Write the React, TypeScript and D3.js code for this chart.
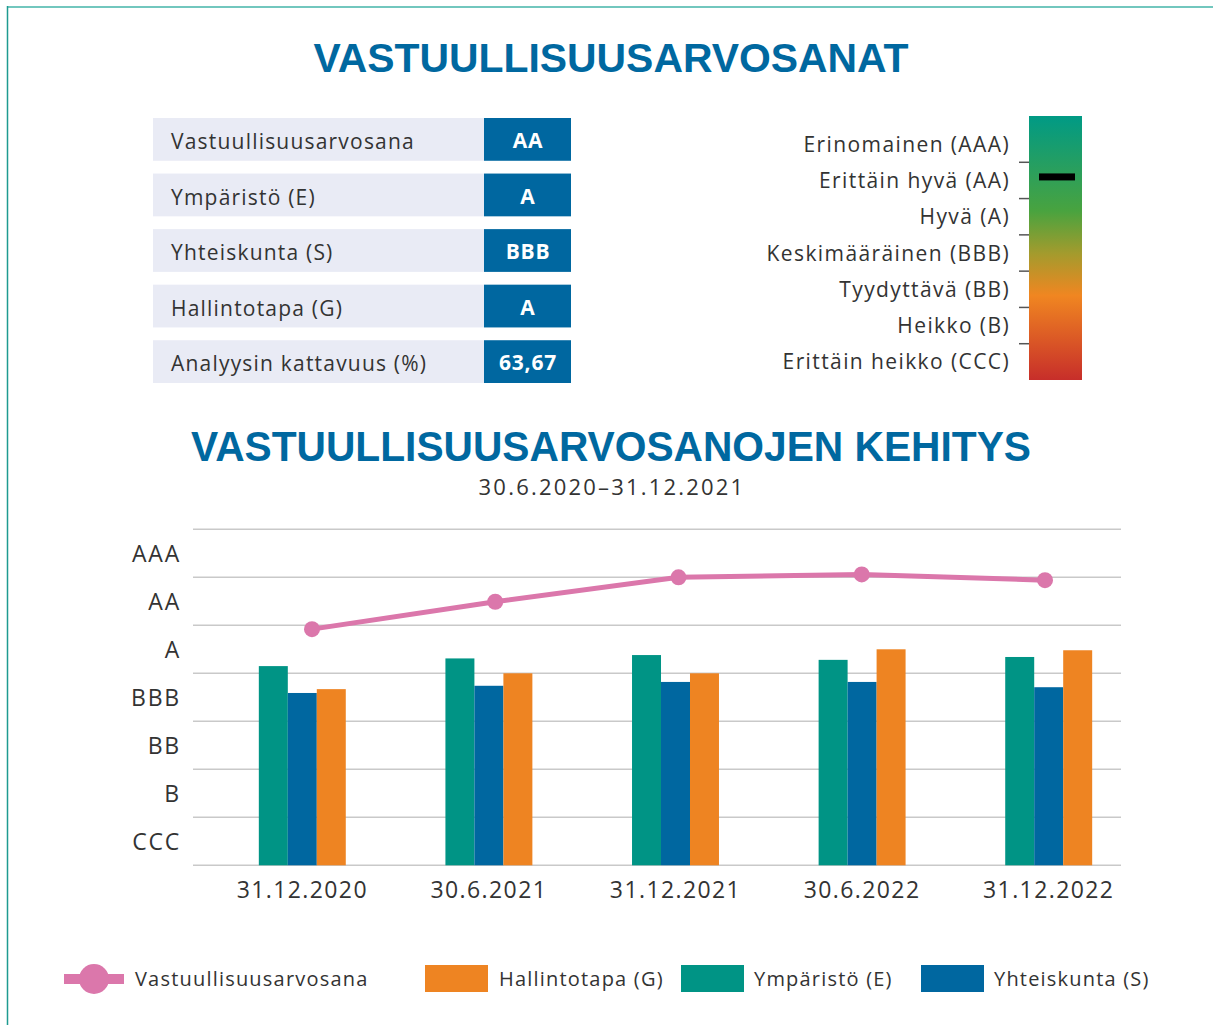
import React from "react";
import * as d3 from "d3";

// ---------- data ----------
const tableLabels = ["Vastuullisuusarvosana", "Ympäristö (E)", "Yhteiskunta (S)", "Hallintotapa (G)", "Analyysin kattavuus (%)"];
const tableValues = ["AA", "A", "BBB", "A", "63,67"];

const scaleLabels = ["Erinomainen (AAA)", "Erittäin hyvä (AA)", "Hyvä (A)", "Keskimääräinen (BBB)", "Tyydyttävä (BB)", "Heikko (B)", "Erittäin heikko (CCC)"];
const currentRatingIndex = 1; // AA

const gradeLabels = ["CCC", "B", "BB", "BBB", "A", "AA", "AAA"];
const categories = ["31.12.2020", "30.6.2021", "31.12.2021", "30.6.2022", "31.12.2022"];
const envValues = [4.15, 4.31, 4.38, 4.28, 4.34];
const socValues = [3.59, 3.74, 3.82, 3.82, 3.71];
const govValues = [3.67, 4.0, 4.0, 4.5, 4.48];
const overallValues = [4.92, 5.49, 6.0, 6.06, 5.94];

const seriesKeys = ["E", "S", "G"];
const seriesValues: Record<string, number[]> = { E: envValues, S: socValues, G: govValues };

// ---------- styles ----------
const C = {
  teal: "#009485",
  blue: "#0067a0",
  orange: "#ee8422",
  pink: "#db77ab",
  title: "#0068a0",
  text: "#333333",
  grid: "#c9c9c9",
  rowBg: "#e9ebf5",
};
const seriesColor: Record<string, string> = { E: C.teal, S: C.blue, G: C.orange };
const FONT = "'Open Sans', sans-serif";
const TITLE_FONT = "'Liberation Sans', Arial, sans-serif";

export default function App() {
  const W = 1213, H = 1025;

  // chart scales
  const y = d3.scaleLinear().domain([0, 7]).range([865.3, 529.3]);
  const x0 = d3.scaleBand<string>().domain(categories).range([209, 1142]).paddingInner(0.534).paddingOuter(0.267);
  const x1 = d3.scaleBand<string>().domain(seriesKeys).range([0, x0.bandwidth()]);
  const xLine = d3.scalePoint<string>().domain(categories).range([312, 1045]);
  const gridX0 = 193, gridX1 = 1121;

  const lineGen = d3.line<number>().x((_, i) => xLine(categories[i])!).y((d) => y(d));

  // table layout
  const rowY = d3.scaleBand<string>().domain(tableLabels).range([118, 383]).paddingInner(0.23);

  // rating legend
  const rY = d3.scaleBand<string>().domain(scaleLabels).range([126, 380]);

  const txt = { fontFamily: FONT, fill: C.text } as const;

  return (
    <div style={{ position: "absolute", left: 0, top: 0 }}>
      <svg width={W} height={H} style={{ display: "block", background: "#fff" }}>
        <defs>
          <linearGradient id="ratingGrad" x1="0" y1="0" x2="0" y2="1">
            <stop offset="0" stopColor="#009a85" />
            <stop offset="0.36" stopColor="#49a33f" />
            <stop offset="0.52" stopColor="#a39b2d" />
            <stop offset="0.68" stopColor="#f08621" />
            <stop offset="1" stopColor="#c72e2a" />
          </linearGradient>
        </defs>
        {/* frame */}
        <line x1={7} x2={W} y1={7} y2={7} stroke="#72c7be" strokeWidth={2} />
        <line x1={7.5} x2={7.5} y1={6} y2={H} stroke="#1e9b91" strokeWidth={1.5} />

        {/* title 1 */}
        <text x={611} y={72} textAnchor="middle" fontFamily={TITLE_FONT} fontWeight={700} fontSize={41}
          fill={C.title} textLength={595} lengthAdjust="spacingAndGlyphs">VASTUULLISUUSARVOSANAT</text>

        {/* table */}
        {tableLabels.map((lab, i) => {
          const yy = rowY(lab)!;
          const h = rowY.bandwidth();
          return (
            <g key={lab}>
              <rect x={153} y={yy} width={331} height={h} fill={C.rowBg} />
              <rect x={484} y={yy} width={87} height={h} fill={C.blue} />
              <text x={171} y={yy + h / 2 + 2} dy="0.36em" fontSize={21} letterSpacing={1.2} {...txt}>{lab}</text>
              <text x={528} y={yy + h / 2 + 1} dy="0.36em" textAnchor="middle" fontFamily={FONT} fontWeight={700} fontSize={21} letterSpacing={0.8} fill="#fff">{tableValues[i]}</text>
            </g>
          );
        })}

        {/* rating scale legend */}
        <rect x={1029} y={116} width={53} height={264} fill="url(#ratingGrad)" />
        {scaleLabels.map((lab) => (
          <text key={lab} x={1010} y={rY(lab)! + rY.bandwidth() / 2} dy="0.36em" textAnchor="end" fontSize={21} letterSpacing={1.4} {...txt}>{lab}</text>
        ))}
        {scaleLabels.slice(1).map((lab) => (
          <line key={lab} x1={1019} x2={1029} y1={rY(lab)!} y2={rY(lab)!} stroke="#555" strokeWidth={1.5} />
        ))}
        <rect x={1039} y={rY(scaleLabels[currentRatingIndex])! + rY.bandwidth() / 2 - 7} width={36} height={7} fill="#000" />

        {/* title 2 */}
        <text x={611} y={461} textAnchor="middle" fontFamily={TITLE_FONT} fontWeight={700} fontSize={42}
          fill={C.title} textLength={840} lengthAdjust="spacingAndGlyphs">VASTUULLISUUSARVOSANOJEN KEHITYS</text>
        <text x={612} y={487} dy="0.36em" textAnchor="middle" fontSize={22} letterSpacing={2.2} {...txt}>30.6.2020–31.12.2021</text>

        {/* grid */}
        {d3.range(0, 8).map((v) => (
          <line key={v} x1={gridX0} x2={gridX1} y1={y(v)} y2={y(v)} stroke={C.grid} strokeWidth={1.5} />
        ))}
        {gradeLabels.map((g, i) => (
          <text key={g} x={181} y={y(i + 0.5)} dy="0.36em" textAnchor="end" fontSize={23} letterSpacing={1.8} {...txt}>{g}</text>
        ))}

        {/* bars */}
        {categories.map((c, ci) => (
          <g key={c} transform={`translate(${x0(c)},0)`}>
            {seriesKeys.map((k) => (
              <rect key={k} x={x1(k)} y={y(seriesValues[k][ci])} width={x1.bandwidth()} height={y(0) - y(seriesValues[k][ci])} fill={seriesColor[k]} />
            ))}
          </g>
        ))}

        {/* x labels */}
        {categories.map((c) => (
          <text key={c} x={x0(c)! + x0.bandwidth() / 2} y={890} dy="0.36em" textAnchor="middle" fontSize={23} letterSpacing={1.4} {...txt}>{c}</text>
        ))}

        {/* line */}
        <path d={lineGen(overallValues)!} fill="none" stroke={C.pink} strokeWidth={5} />
        {overallValues.map((v, i) => (
          <circle key={i} cx={xLine(categories[i])} cy={y(v)} r={8} fill={C.pink} />
        ))}

        {/* legend */}
        <g>
          <line x1={64} x2={124} y1={979} y2={979} stroke={C.pink} strokeWidth={10} />
          <circle cx={94} cy={979} r={15} fill={C.pink} />
          <text x={135} y={979} dy="0.36em" fontSize={20} letterSpacing={1.2} {...txt}>Vastuullisuusarvosana</text>

          <rect x={425} y={965} width={63} height={27} fill={C.orange} />
          <text x={499} y={979} dy="0.36em" fontSize={20} letterSpacing={1.2} {...txt}>Hallintotapa (G)</text>

          <rect x={681} y={965} width={63} height={27} fill={C.teal} />
          <text x={754} y={979} dy="0.36em" fontSize={20} letterSpacing={1.2} {...txt}>Ympäristö (E)</text>

          <rect x={921} y={965} width={63} height={27} fill={C.blue} />
          <text x={994} y={979} dy="0.36em" fontSize={20} letterSpacing={1.2} {...txt}>Yhteiskunta (S)</text>
        </g>
      </svg>
    </div>
  );
}
